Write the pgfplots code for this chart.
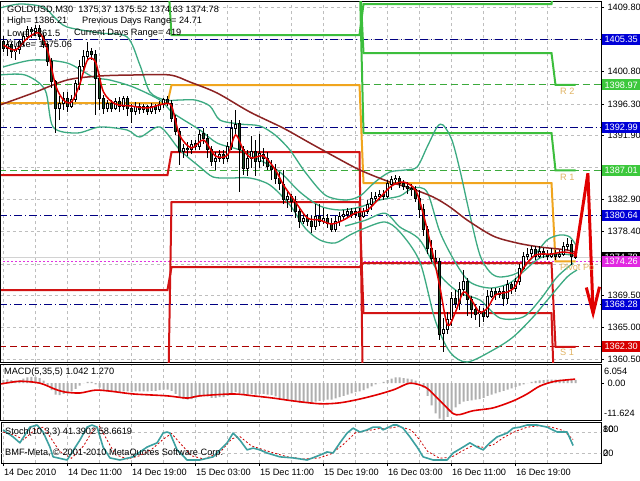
\documentclass[border=0pt]{standalone}
\usepackage{fontspec}
\setmainfont{Liberation Sans}
\usepackage{pgfplots}
\pgfplotsset{compat=1.18}
\usepackage{pgfplotstable}

\definecolor{bbgreen}{RGB}{60,170,130}
\definecolor{maBrown}{RGB}{140,35,35}
\definecolor{maRed}{RGB}{225,0,0}
\definecolor{pvGreen}{RGB}{60,190,60}
\definecolor{pvOrange}{RGB}{240,165,30}
\definecolor{pvRed}{RGB}{210,20,20}
\definecolor{lvBlue}{RGB}{0,0,130}
\definecolor{lvGreen}{RGB}{60,170,60}
\definecolor{lvMag}{RGB}{225,50,225}
\definecolor{lvRed}{RGB}{170,0,0}
\definecolor{bear}{RGB}{25,75,35}
\definecolor{gridc}{RGB}{190,190,190}
\definecolor{boxBlue}{RGB}{0,0,215}
\definecolor{boxGreen}{RGB}{60,200,60}
\definecolor{boxMag}{RGB}{225,40,225}
\definecolor{boxRed}{RGB}{215,0,0}
\definecolor{lblTan}{RGB}{225,180,100}
\definecolor{stochc}{RGB}{60,160,160}
\definecolor{histc}{RGB}{175,175,175}

\newcommand\tf{\fontsize{9.2}{11}\selectfont}

\pgfplotsset{
  mt4/.style={
    scale only axis, width=600pt, anchor=north west,
    xmin=-0.625, xmax=149.375,
    axis line style={black, line width=1pt},
    tick align=outside, major tick length=3pt, minor tick length=0pt,
    tick style={black, line width=0.8pt},
    xtick={0,16,...,128}, minor xtick={8,24,...,144},
    grid=both,
    major grid style={gridc, dash pattern=on 3pt off 3pt, line width=0.6pt},
    minor grid style={gridc, dash pattern=on 3pt off 3pt, line width=0.6pt},
    xtick pos=left, ytick pos=right, yticklabel pos=right,
    ticklabel style={font=\tf},
  },
  lvl/.style={line width=1pt},
  step/.style={line width=2pt},
  band/.style={bbgreen, line width=1.3pt, smooth},
}

% M30 candles: bar index, open, high, low, close
\pgfplotstableread{
x o h l c
0 1405.0 1405.8 1403.6 1404.1
1 1404.1 1405.3 1403.0 1404.6
2 1404.6 1405.0 1402.7 1403.6
3 1403.6 1404.4 1402.5 1403.9
4 1403.9 1405.3 1403.3 1405.0
5 1405.0 1406.4 1404.4 1405.8
6 1405.8 1407.2 1405.3 1406.7
7 1406.7 1407.1 1405.5 1406.4
8 1406.4 1407.4 1405.8 1406.9
9 1406.9 1407.4 1405.3 1405.8
10 1405.8 1406.2 1404.1 1404.6
11 1404.6 1404.8 1401.6 1402.2
12 1402.2 1402.7 1398.5 1399.4
13 1399.4 1399.7 1392.2 1395.7
14 1395.7 1397.4 1394.1 1396.3
15 1396.3 1398.0 1395.5 1397.1
16 1397.1 1398.0 1395.2 1396.0
17 1396.0 1397.6 1395.7 1396.9
18 1396.9 1399.7 1396.6 1399.1
19 1399.1 1402.5 1398.3 1401.6
20 1401.6 1403.9 1401.1 1403.0
21 1403.0 1405.0 1402.5 1403.6
22 1403.6 1404.1 1402.5 1403.2
23 1403.2 1403.9 1394.8 1399.9
24 1399.9 1400.5 1395.5 1397.1
25 1397.1 1397.6 1394.9 1395.7
26 1395.7 1396.9 1395.2 1396.3
27 1396.3 1396.9 1395.2 1395.7
28 1395.7 1397.1 1395.5 1396.6
29 1396.6 1397.3 1395.2 1396.0
30 1396.0 1397.4 1395.5 1397.0
31 1397.0 1397.4 1394.6 1395.7
32 1395.7 1396.3 1393.6 1395.2
33 1395.2 1396.6 1394.8 1396.0
34 1396.0 1396.4 1394.9 1395.5
35 1395.5 1396.3 1395.0 1395.9
36 1395.9 1396.2 1394.8 1395.3
37 1395.3 1396.4 1394.9 1396.0
38 1396.0 1396.3 1394.9 1395.5
39 1395.5 1396.7 1395.2 1396.3
40 1396.3 1397.1 1395.7 1396.9
41 1396.9 1397.4 1396.0 1396.4
42 1396.4 1396.9 1393.8 1394.3
43 1394.3 1394.8 1392.0 1392.4
44 1392.4 1393.0 1387.8 1389.6
45 1389.6 1390.7 1388.7 1390.1
46 1390.1 1391.0 1389.0 1389.9
47 1389.9 1391.3 1389.3 1390.7
48 1390.7 1391.3 1389.9 1390.4
49 1390.4 1392.7 1389.9 1392.1
50 1392.1 1392.9 1390.7 1391.5
51 1391.5 1392.1 1388.7 1389.9
52 1389.9 1390.4 1387.6 1388.2
53 1388.2 1389.6 1387.1 1388.7
54 1388.7 1389.9 1388.2 1389.3
55 1389.3 1389.9 1387.9 1388.7
56 1388.7 1391.0 1388.2 1390.4
57 1390.4 1394.1 1389.9 1392.9
58 1392.9 1395.5 1392.1 1393.5
59 1393.5 1394.1 1384.0 1389.9
60 1389.9 1390.4 1386.4 1387.3
61 1387.3 1389.9 1386.2 1388.7
62 1388.7 1391.8 1387.3 1389.6
63 1389.6 1391.3 1386.2 1388.2
64 1388.2 1392.1 1387.3 1389.3
65 1389.3 1390.1 1387.6 1388.7
66 1388.7 1389.6 1387.1 1387.6
67 1387.6 1388.5 1385.7 1387.1
68 1387.1 1387.9 1385.1 1385.9
69 1385.9 1386.8 1384.3 1385.1
70 1385.1 1387.1 1382.3 1382.9
71 1382.9 1384.3 1381.7 1383.4
72 1383.4 1383.7 1381.2 1382.6
73 1382.6 1383.4 1380.3 1381.2
74 1381.2 1381.7 1378.9 1379.8
75 1379.8 1380.9 1379.5 1380.3
76 1380.3 1380.9 1379.2 1379.8
77 1379.8 1380.6 1378.2 1379.2
78 1379.2 1382.3 1378.7 1380.6
79 1380.6 1382.3 1379.2 1379.8
80 1379.8 1381.7 1379.5 1380.3
81 1380.3 1380.9 1378.9 1379.5
82 1379.5 1380.3 1378.4 1378.7
83 1378.7 1380.6 1378.4 1379.8
84 1379.8 1381.2 1379.2 1380.6
85 1380.6 1381.5 1380.1 1380.9
86 1380.9 1381.7 1380.3 1381.3
87 1381.3 1381.7 1380.3 1380.9
88 1380.9 1381.7 1380.3 1381.2
89 1381.2 1381.7 1380.1 1380.6
90 1380.6 1381.7 1380.3 1381.2
91 1381.2 1382.9 1380.9 1382.3
92 1382.3 1384.0 1381.5 1383.1
93 1383.1 1384.0 1382.6 1383.4
94 1383.4 1384.3 1382.9 1383.7
95 1383.7 1384.3 1382.9 1383.4
96 1383.4 1385.7 1383.1 1385.1
97 1385.1 1386.2 1384.3 1385.7
98 1385.7 1386.4 1385.1 1385.9
99 1385.9 1386.2 1384.5 1385.1
100 1385.1 1385.7 1384.3 1384.8
101 1384.8 1385.4 1383.7 1384.5
102 1384.5 1385.1 1383.4 1384.3
103 1384.3 1384.8 1382.6 1383.1
104 1383.1 1384.3 1380.3 1381.5
105 1381.5 1382.3 1377.8 1378.7
106 1378.7 1379.2 1375.3 1376.1
107 1376.1 1377.3 1374.2 1374.7
108 1374.7 1375.9 1373.6 1374.2
109 1374.2 1374.7 1363.3 1364.1
110 1364.1 1366.3 1361.6 1364.7
111 1364.7 1367.2 1364.1 1366.1
112 1366.1 1370.0 1365.2 1369.1
113 1369.1 1370.3 1367.7 1368.3
114 1368.3 1371.4 1367.5 1370.3
115 1370.3 1373.1 1369.4 1371.4
116 1371.4 1371.9 1366.6 1368.9
117 1368.9 1369.4 1366.3 1367.5
118 1367.5 1368.3 1366.1 1366.9
119 1366.9 1368.0 1365.1 1367.2
120 1367.2 1367.7 1365.8 1366.6
121 1366.6 1370.3 1366.3 1369.4
122 1369.4 1370.5 1369.1 1370.0
123 1370.0 1370.5 1368.9 1369.7
124 1369.7 1370.5 1369.1 1370.0
125 1370.0 1370.8 1368.0 1369.1
126 1369.1 1371.7 1368.3 1371.1
127 1371.1 1371.4 1369.7 1370.5
128 1370.5 1371.9 1370.0 1371.4
129 1371.4 1373.9 1371.0 1373.3
130 1373.3 1375.6 1373.1 1375.0
131 1375.0 1376.1 1374.5 1375.3
132 1375.3 1376.4 1374.7 1375.9
133 1375.9 1376.4 1374.5 1375.0
134 1375.0 1376.4 1374.7 1375.6
135 1375.6 1376.1 1374.7 1375.3
136 1375.3 1375.9 1374.5 1375.0
137 1375.0 1376.1 1374.7 1375.4
138 1375.4 1375.9 1374.5 1375.0
139 1375.0 1375.9 1374.7 1375.3
140 1375.3 1377.0 1375.0 1376.4
141 1376.4 1377.5 1375.9 1376.7
142 1376.7 1377.3 1373.8 1375.0
143 1375.37 1375.52 1374.63 1374.78
}\candles

% MACD(5,35,5) main values, one per bar
\pgfplotstableread{
x v
0 1.0
1 1.2
2 1.0
3 0.8
4 1.0
5 1.4
6 1.8
7 2.0
8 2.0
9 1.6
10 0.8
11 -0.6
12 -2.2
13 -3.6
14 -3.8
15 -3.4
16 -3.0
17 -2.6
18 -1.8
19 -0.8
20 0.0
21 0.4
22 0.4
23 -0.4
24 -1.4
25 -2.2
26 -2.6
27 -2.8
28 -2.8
29 -2.8
30 -2.6
31 -2.6
32 -2.8
33 -2.6
34 -2.6
35 -2.6
36 -2.6
37 -2.4
38 -2.4
39 -2.2
40 -2.0
41 -2.0
42 -2.4
43 -3.4
44 -4.6
45 -5.0
46 -5.2
47 -5.0
48 -4.8
49 -4.2
50 -4.0
51 -4.2
52 -4.6
53 -4.6
54 -4.4
55 -4.4
56 -4.0
57 -3.2
58 -2.8
59 -3.2
60 -3.6
61 -3.6
62 -3.4
63 -3.6
64 -3.4
65 -3.4
66 -3.6
67 -3.8
68 -4.2
69 -4.6
70 -5.2
71 -5.4
72 -5.6
73 -5.8
74 -6.2
75 -6.2
76 -6.2
77 -6.2
78 -5.8
79 -5.6
80 -5.4
81 -5.2
82 -5.2
83 -4.8
84 -4.4
85 -4.0
86 -3.6
87 -3.2
88 -2.8
89 -2.6
90 -2.2
91 -1.6
92 -1.0
93 -0.4
94 0.0
95 0.4
96 1.0
97 1.4
98 1.8
99 1.8
100 1.6
101 1.4
102 1.2
103 0.8
104 0.0
105 -1.4
106 -4.0
107 -7.0
108 -9.5
109 -11.2
110 -11.6
111 -10.6
112 -9.0
113 -7.6
114 -6.6
115 -5.8
116 -5.6
117 -5.4
118 -5.2
119 -5.0
120 -4.6
121 -4.0
122 -3.6
123 -3.2
124 -2.8
125 -2.4
126 -2.0
127 -1.6
128 -1.2
129 -0.8
130 -0.4
131 0.0
132 0.4
133 0.7
134 0.9
135 1.0
136 1.1
137 1.1
138 1.1
139 1.1
140 1.1
141 1.1
142 1.0
143 1.042
}\macd

\begin{document}
\begin{tikzpicture}
\useasboundingbox (0,0) rectangle (640pt,-480pt);
\fill[white] (0,0) rectangle (640pt,-480pt);

% ---------------- main price panel ----------------
\begin{axis}[mt4, at={(1pt,-1pt)}, height=361pt,
  ymin=1360.17, ymax=1410.71,
  ytick={1409.80,1405.30,1400.80,1396.30,1391.90,1387.40,1382.90,1378.40,1373.90,1369.50,1365.00,1360.50},
  yticklabels={1409.80,,1400.80,1396.30,1391.90,,1382.90,1378.40,,1369.50,1365.00,1360.50},
  xticklabels={}, xtick style={draw=none}]

% current day levels
\addplot[lvl, lvBlue, dash pattern=on 8pt off 3pt on 1pt off 3pt] coordinates {(-1,1405.35) (150,1405.35)};
\addplot[lvl, lvBlue, dash pattern=on 8pt off 3pt on 1pt off 3pt] coordinates {(-1,1392.99) (150,1392.99)};
\addplot[lvl, lvBlue, dash pattern=on 8pt off 3pt on 1pt off 3pt] coordinates {(-1,1380.64) (150,1380.64)};
\addplot[lvl, lvBlue, dash pattern=on 8pt off 3pt on 1pt off 3pt] coordinates {(-1,1368.28) (150,1368.28)};
\addplot[lvl, lvGreen, dash pattern=on 7pt off 4pt] coordinates {(-1,1398.97) (150,1398.97)};
\addplot[lvl, lvGreen, dash pattern=on 7pt off 4pt] coordinates {(-1,1387.01) (150,1387.01)};
\addplot[lvl, lvRed, dash pattern=on 7pt off 4pt] coordinates {(-1,1362.30) (150,1362.30)};
\addplot[line width=0.8pt, gray!35] coordinates {(-1,1374.78) (150,1374.78)};
\addplot[lvl, lvMag, dash pattern=on 2pt off 2pt] coordinates {(-1,1374.26) (150,1374.26)};

% daily pivot steps
\addplot[step, pvGreen] coordinates {(-1,1415) (41,1415) (42,1405.95) (89,1405.95) (90,1410.29) (137,1410.29) (138,1415) (143,1415)};
\addplot[step, pvGreen] coordinates {(-1,1415) (89,1415) (90,1403.43) (137,1403.43) (138,1398.97) (143,1398.97)};
\addplot[step, pvGreen] coordinates {(-1,1415) (89,1415) (90,1392.23) (137,1392.23) (138,1387.01) (143,1387.01)};
\addplot[step, pvOrange] coordinates {(-1,1396.43) (41,1396.43) (42,1398.95) (89,1398.95) (90,1385.23) (137,1385.23) (138,1374.26) (143,1374.26)};
\addplot[step, pvRed] coordinates {(-1,1386.35) (41,1386.35) (42,1389.57) (89,1389.57) (90,1350) (143,1350)};
\addplot[step, pvRed] coordinates {(-1,1370.25) (41,1370.25) (42,1373.47) (89,1373.47) (90,1374.03) (137,1374.03) (138,1362.30) (143,1362.30)};
\addplot[step, pvRed] coordinates {(-1,1350) (41,1350) (42,1382.57) (89,1382.57) (90,1367.03) (137,1367.03) (138,1350) (143,1350)};

% bands
\addplot[band] coordinates {(-0.9,1409.73) (4.1,1410.29) (9.9,1409.87) (12.9,1408.33) (15.9,1407.07) (24.1,1406.23) (30.9,1405.67) (34.1,1401.75) (36.6,1397.97) (40.4,1396.85) (44.1,1396.85) (47.9,1396.85) (51.6,1396.01) (54.1,1394.05) (59.1,1393.49) (64.1,1393.21) (67.9,1391.95) (71.6,1389.85) (75.4,1386.77) (80.4,1383.55) (85.4,1382.85) (89.1,1383.41) (92.9,1385.37) (96.6,1386.77) (100.4,1387.05) (103.4,1387.47) (105.9,1390.27) (108.4,1393.07) (109.9,1393.35) (112.1,1391.25) (114.1,1387.05) (116.6,1380.75) (119.1,1375.15) (121.6,1372.77) (124.1,1372.07) (128.4,1372.63) (132.4,1374.87) (135.9,1377.25) (139.1,1377.95) (141.6,1377.67) (143.4,1376.27)};
\addplot[band] coordinates {(-0.1,1401.47) (7.4,1402.45) (15.9,1402.03) (22.4,1400.07) (26.6,1399.65) (32.4,1398.67) (39.1,1396.85) (42.4,1395.03) (49.1,1392.65) (53.4,1390.83) (59.1,1389.85) (64.1,1388.45) (69.1,1386.77) (74.1,1383.97) (79.1,1382.01) (84.1,1381.45) (89.1,1381.87) (94.1,1382.85) (99.1,1383.41) (102.4,1384.53) (105.9,1383.97) (109.1,1378.37) (112.9,1374.17) (116.6,1371.37) (121.6,1370.53) (126.6,1371.23) (130.4,1373.05) (134.1,1374.73) (139.1,1375.29) (143.4,1375.01)};
\addplot[band] coordinates {(-0.9,1400.35) (5.4,1400.35) (10.4,1398.25) (12.4,1393.07) (18.4,1392.23) (24.1,1393.07) (30.9,1392.65) (34.1,1391.67) (39.1,1393.07) (44.1,1389.85) (49.1,1387.47) (52.4,1386.07) (56.6,1385.93) (61.6,1385.93) (66.6,1384.95) (71.6,1382.15) (75.4,1378.93) (79.1,1377.25) (82.9,1376.83) (86.6,1377.95) (90.4,1378.93) (95.4,1379.77) (99.1,1378.37) (104.1,1374.17) (107.9,1366.05) (111.6,1361.57) (115.9,1360.17) (122.4,1361.85) (127.4,1363.67) (132.4,1366.47) (136.6,1369.27) (140.9,1372.07) (143.4,1373.05)};
\addplot[band] coordinates {(85.4,1379.2) (90.4,1380.0) (95.4,1381.0) (99.1,1379.07) (104.1,1377.25) (109.1,1372.35) (114.1,1369.83) (119.1,1368.85) (124.1,1366.33) (129.9,1366.47) (134.1,1368.85) (138.4,1372.07) (142.4,1374.03)};

% slow moving average
\addplot[maBrown, line width=1.5pt, smooth] coordinates {(-0.9,1396.15) (7.4,1397.83) (15.9,1399.65) (24.1,1400.21) (32.4,1400.35) (41.6,1400.35) (46.6,1399.37) (53.4,1397.83) (61.6,1395.17) (69.9,1392.93) (76.6,1390.83) (83.4,1388.73) (89.1,1387.05) (95.9,1385.51) (101.6,1384.53) (107.4,1383.27) (111.6,1381.87) (115.9,1380.05) (122.4,1377.81) (128.4,1376.83) (134.1,1376.27) (140.9,1375.85) (143.4,1375.43)};

% candles: wicks, body outlines, bodies
\addplot[mark=none, draw=none, error bars/.cd, y dir=both, y explicit, error mark=none,
  error bar style={draw=black, line width=1pt, solid}]
  table[x=x, y expr={(\thisrow{h}+\thisrow{l})/2}, y error expr={(\thisrow{h}-\thisrow{l})/2}] {\candles};
\addplot[mark=none, draw=none, error bars/.cd, y dir=both, y explicit, error mark=none,
  error bar style={draw=black, line width=3pt, solid}]
  table[x=x, y expr={(\thisrow{o}+\thisrow{c})/2}, y error expr={abs(\thisrow{o}-\thisrow{c})/2+0.07}] {\candles};
\addplot[mark=none, draw=none, restrict expr to domain={\thisrow{c}-\thisrow{o}}{0:100},
  error bars/.cd, y dir=both, y explicit, error mark=none,
  error bar style={draw=white, line width=1.1pt, solid}]
  table[x=x, y expr={(\thisrow{o}+\thisrow{c})/2}, y error expr={max(abs(\thisrow{o}-\thisrow{c})/2-0.07,0)}] {\candles};
\addplot[mark=none, draw=none, restrict expr to domain={\thisrow{o}-\thisrow{c}}{0.001:100},
  error bars/.cd, y dir=both, y explicit, error mark=none,
  error bar style={draw=bear, line width=1.1pt, solid}]
  table[x=x, y expr={(\thisrow{o}+\thisrow{c})/2}, y error expr={max(abs(\thisrow{o}-\thisrow{c})/2-0.07,0)}] {\candles};

% fast moving average
\addplot[maRed, line width=1.5pt, smooth] coordinates {(0,1404.55) (3,1403.85) (6,1405.53) (9,1406.23) (11,1403.85) (13,1398.95) (15,1396.85) (17,1396.57) (19,1398.95) (21,1402.45) (23,1402.17) (25,1397.97) (28,1396.29) (32,1396.01) (36,1395.73) (40,1396.29) (42,1396.01) (44,1391.95) (47,1390.13) (50,1391.25) (53,1389.01) (56,1389.15) (58,1391.95) (60,1389.85) (62,1388.73) (65,1389.01) (68,1387.05) (70,1384.95) (73,1382.57) (76,1380.33) (79,1380.05) (82,1379.49) (85,1380.05) (88,1381.03) (91,1381.45) (94,1383.13) (97,1384.81) (100,1385.37) (103,1384.25) (105,1380.75) (107,1376.13) (109,1370.95) (111,1365.35) (113,1367.17) (115,1369.97) (117,1368.85) (119,1367.17) (121,1367.73) (123,1369.55) (126,1369.97) (128,1370.81) (130,1373.33) (133,1375.15) (137,1375.29) (140,1375.57) (143,1375.29)};

% forecast arrow
\addplot[maRed, line width=3pt, line join=miter] coordinates {(142.9,1374.9) (146.1,1386.6) (147.4,1367.0)};
\addplot[maRed, line width=3pt, line join=miter] coordinates {(145.7,1370.6) (147.4,1367.0) (149.0,1370.7)};

\node[anchor=west, inner sep=0, text=lblTan, font=\tf] at (axis cs:139.1,1398.11) {R 2};
\node[anchor=west, inner sep=0, text=lblTan, font=\tf] at (axis cs:139.1,1386.07) {R 1};
\node[anchor=west, inner sep=0, text=lblTan, font=\tf] at (axis cs:139.1,1373.47) {Pivot Po};
\node[anchor=west, inner sep=0, text=lblTan, font=\tf] at (axis cs:139.1,1361.57) {S 1};

\coordinate (b1) at (axis cs:149.375,1405.35);
\coordinate (b2) at (axis cs:149.375,1398.97);
\coordinate (b3) at (axis cs:149.375,1392.99);
\coordinate (b4) at (axis cs:149.375,1387.01);
\coordinate (b5) at (axis cs:149.375,1380.64);
\coordinate (b6) at (axis cs:149.375,1374.78);
\coordinate (b7) at (axis cs:149.375,1374.26);
\coordinate (b8) at (axis cs:149.375,1368.28);
\coordinate (b9) at (axis cs:149.375,1362.30);
\end{axis}

\tikzset{pbox/.style={anchor=west, text=white, font=\tf, inner xsep=2pt, inner ysep=0pt, minimum height=11pt, minimum width=38pt, xshift=1pt}}
\node[pbox, fill=boxBlue] at (b1) {1405.35};
\node[pbox, fill=boxGreen] at (b2) {1398.97};
\node[pbox, fill=boxBlue] at (b3) {1392.99};
\node[pbox, fill=boxGreen] at (b4) {1387.01};
\node[pbox, fill=boxBlue] at (b5) {1380.64};
\node[pbox, fill=black] at (b6) {1374.78};
\node[pbox, fill=boxMag] at (b7) {1374.26};
\node[pbox, fill=boxBlue] at (b8) {1368.28};
\node[pbox, fill=boxRed] at (b9) {1362.30};

% header text
\begin{scope}[every node/.style={anchor=west, inner sep=0, font=\tf}]
\node at (7pt,-10pt) {GOLDUSD,M30\ \ 1375.37 1375.52 1374.63 1374.78};
\node at (7pt,-21.5pt) {High= 1386.21};
\node at (82pt,-21.5pt) {Previous Days Range= 24.71};
\node at (7pt,-33pt) {Low= 1361.5};
\node at (74pt,-33pt) {Current Days Range= 419};
\node at (7pt,-44.5pt) {Close= 1375.06};
\end{scope}

% ---------------- MACD panel ----------------
\begin{axis}[mt4, at={(1pt,-364pt)}, height=56pt,
  ymin=-11.624, ymax=6.054, ytick={0}, yticklabels={0.00},
  ymajorgrids=false, yminorgrids=false,
  xticklabels={}, xtick style={draw=none}]
\addplot[ybar, bar width=2pt, fill=histc, draw=none] table[x=x, y=v] {\macd};
\addplot[maRed, line width=1.6pt, smooth] coordinates {(-0.9,-0.3) (4.1,0.6) (9.1,0) (12.9,-1.9) (15.4,-2.8) (19.1,-3.1) (22.9,-2.2) (26.6,-2.5) (32.4,-3.4) (40.9,-4.0) (45.9,-4.7) (49.1,-4.0) (57.4,-3.4) (62.4,-4.0) (67.4,-4.7) (72.4,-5.6) (79.1,-6.5) (84.1,-6.2) (89.1,-5.0) (94.1,-3.4) (97.9,-1.9) (101.6,0) (105.4,-1.2) (107.9,-4.0) (109.9,-6.5) (112.4,-9.6) (114.1,-9.9) (117.4,-8.7) (122.4,-7.8) (127.4,-5.6) (130.9,-3.4) (134.1,-0.9) (137.9,0.6) (142.9,1.27)};
\end{axis}
\node[anchor=west, inner sep=0, font=\tf] at (4pt,-372pt) {MACD(5,35,5) 1.042 1.270};
\node[anchor=west, inner sep=0, font=\tf] at (604pt,-371pt) {6.054};
\node[anchor=west, inner sep=0, font=\tf] at (604pt,-413pt) {-11.624};

% ---------------- Stochastic panel ----------------
\begin{axis}[mt4, at={(1pt,-422pt)}, height=41pt,
  ymin=-8.6, ymax=108.6, ytick=\empty,
  ymajorgrids=false, yminorgrids=false,
  xticklabels={14 Dec 2010, 14 Dec 11:00, 14 Dec 19:00, 15 Dec 03:00, 15 Dec 11:00, 15 Dec 19:00, 16 Dec 03:00, 16 Dec 11:00, 16 Dec 19:00},
  xticklabel style={anchor=north west, xshift=-3pt}]
\addplot[gridc, dash pattern=on 3pt off 3pt, line width=0.6pt] coordinates {(-1,80) (150,80)};
\addplot[gridc, dash pattern=on 3pt off 3pt, line width=0.6pt] coordinates {(-1,20) (150,20)};
\addplot[red!80!black, line width=0.8pt, dash pattern=on 2pt off 2pt] coordinates {(-0.1,80) (3,70) (5,58) (8,88) (10,94) (12,60) (14,25) (17,5) (20,40) (22.5,88) (24,96) (26,55) (28,15) (31,3) (34,12) (37,30) (40,60) (42,76) (44,50) (47,12) (50,3) (54,20) (57,60) (59,68) (62,40) (64,33) (67,22) (71,9) (75,3) (79,6) (82,18) (85,45) (88,78) (91,84) (94,90) (96,90) (99,96) (102,85) (104,58) (106,25) (109,5) (112,8) (115,28) (117.5,42) (120,36) (122.5,44) (125,64) (128,82) (131,94) (134,98) (137,94) (140,84) (142.4,58.66)};
\addplot[stochc, line width=1.6pt, line join=round] coordinates {(-0.1,86) (2.4,66) (4.1,49) (6.6,94) (8.4,100) (9.9,80) (11.6,37) (12.4,9) (15.9,0) (19.1,57) (20.9,94) (22.1,100) (23.4,94) (24.9,37) (26.6,6) (29.1,0) (32.4,9) (34.1,23) (35.9,37) (38.4,49) (39.9,77) (40.9,80) (41.6,77) (43.4,29) (45.9,0) (49.1,0) (52.4,9) (55.9,49) (57.4,77) (59.1,57) (60.9,29) (62.4,34) (64.1,29) (65.9,20) (69.1,9) (72.4,6) (75.9,0) (79.1,14) (80.9,23) (82.4,20) (84.1,49) (85.9,77) (87.4,91) (89.1,80) (90.9,86) (92.4,94) (94.1,94) (94.9,86) (97.4,100) (98.4,100) (99.9,91) (101.6,66) (103.4,37) (104.9,9) (107.4,0) (110.9,0) (112.4,20) (114.9,37) (116.6,49) (118.4,37) (119.9,29) (121.6,49) (123.4,66) (125.9,77) (127.4,91) (129.1,94) (130.9,100) (133.4,100) (135.9,94) (138.4,80) (140.9,80) (142.4,41.39)};
\end{axis}
\node[anchor=west, inner sep=0, font=\tf] at (5pt,-432pt) {Stoch(10,3,3) 41.3902 58.6619};
\node[anchor=west, inner sep=0, font=\tf] at (5pt,-453pt) {BMF-Meta, © 2001-2010 MetaQuotes Software Corp.};
\node[anchor=west, inner sep=0, font=\tf] at (603pt,-429pt) {80};
\node[anchor=west, inner sep=0, font=\tf] at (603pt,-429pt) {100};
\node[anchor=west, inner sep=0, font=\tf] at (603pt,-453pt) {20};
\node[anchor=west, inner sep=0, font=\tf] at (603pt,-453pt) {0};
\end{tikzpicture}
\end{document}
